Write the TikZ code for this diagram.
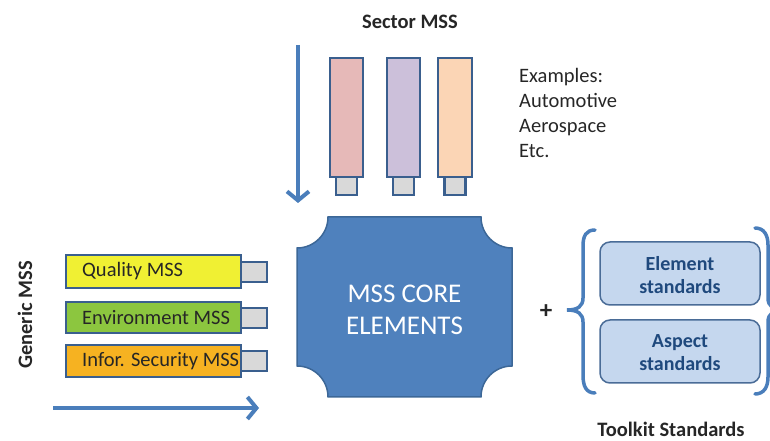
\documentclass[tikz,border=0pt]{standalone}
\usepackage{fontspec}
\setmainfont{Carlito}
\usetikzlibrary{arrows.meta}

\definecolor{edgeblue}{HTML}{3A5F8E}
\definecolor{arrowblue}{HTML}{4A7EBB}
\definecolor{corefill}{HTML}{4F81BD}
\definecolor{coreedge}{HTML}{3C6797}
\definecolor{pinkbar}{HTML}{E6B9B8}
\definecolor{lavbar}{HTML}{CCC0DA}
\definecolor{peachbar}{HTML}{FBD5B5}
\definecolor{tabgray}{HTML}{D9D9D9}
\definecolor{qualfill}{HTML}{F0F033}
\definecolor{envfill}{HTML}{8CC63F}
\definecolor{secfill}{HTML}{F6B221}
\definecolor{stdfill}{HTML}{C5D7EE}
\definecolor{stdedge}{HTML}{4A6C97}
\definecolor{stdtext}{HTML}{1F497D}
\definecolor{labeltext}{HTML}{262626}

\tikzset{
  sectorbar/.style={draw=edgeblue, line width=2.5pt},
  tabbox/.style={draw=edgeblue, line width=2.5pt, fill=tabgray},
  genericbar/.style={draw=edgeblue, line width=2.8pt},
  barlabel/.style={anchor=west, inner sep=0pt, text=labeltext, font=\fontsize{20.5}{24}\selectfont},
  flowarrow/.style={draw=arrowblue, line width=4pt, -{Straight Barb[length=9pt,width=22pt,line width=4pt]}},
  bracket/.style={draw=arrowblue, line width=3.5pt, line cap=round},
  stdbox/.style={draw=stdedge, line width=1.5pt, fill=stdfill, rounded corners=10pt},
  stdlabel/.style={align=center, text=stdtext, font=\bfseries\fontsize{20}{23}\selectfont},
  heading/.style={text=labeltext, font=\bfseries\fontsize{20.5}{24}\selectfont}
}

\begin{document}
\begin{tikzpicture}[x=1pt, y=1pt]
\useasboundingbox (0,0) rectangle (770,441);
\clip (0,0) rectangle (770,441);

% ---- Sector MSS (top) ----
\node[heading] (sector) at (410,419) {Sector MSS};

\coordinate (downstart) at (298,396);
\coordinate (downend) at (298,238);
\draw[flowarrow] (downstart) -- (downend);

\draw[tabbox] (336,246) rectangle (357,264);
\draw[tabbox] (393,246) rectangle (414,264);
\draw[tabbox] (444.5,246) rectangle (465.5,264);
\draw[sectorbar, fill=pinkbar] (330,264) rectangle (363,383);
\draw[sectorbar, fill=lavbar] (387,264) rectangle (420,383);
\draw[sectorbar, fill=peachbar] (438,264) rectangle (472,383);

\node[anchor=west, align=left, inner sep=0pt, text=labeltext,
      font=\fontsize{20.5}{25.3}\selectfont] (examples) at (519,328)
  {Examples:\\Automotive\\Aerospace\\Etc.};

% ---- MSS core elements ----
\fill[corefill, draw=coreedge, line width=1.5pt]
  (328,224) -- (481,224) arc[start angle=180, end angle=270, radius=31pt]
  -- (512,75) arc[start angle=90, end angle=180, radius=31pt]
  -- (328,44) arc[start angle=0, end angle=90, radius=31pt]
  -- (297,193) arc[start angle=270, end angle=360, radius=31pt]
  -- cycle;
\node[align=center, text=white, font=\fontsize{27}{32}\selectfont] (core) at (404.5,131)
  {MSS CORE\\ELEMENTS};

% ---- Generic MSS (left) ----
\node[heading, rotate=90] (generic) at (25,126) {Generic MSS};

\draw[tabbox] (241,159) rectangle (267,179);
\draw[tabbox] (241,113) rectangle (267,133);
\draw[tabbox] (241,70) rectangle (267,90);
\draw[genericbar, fill=qualfill] (66,153) rectangle (241,186);
\draw[genericbar, fill=envfill] (66,108) rectangle (241,139);
\draw[genericbar, fill=secfill] (66,64) rectangle (241,96);
\node[barlabel] (quality) at (82,169.5) {Quality MSS};
\node[barlabel] (environment) at (82,123.5) {Environment MSS};
\node[barlabel] (security) at (82,80) {Infor. Security MSS};

\coordinate (rightstart) at (53,33);
\coordinate (rightend) at (259,33);
\draw[flowarrow] (rightstart) -- (rightend);

% ---- Toolkit standards (right) ----
\node[heading, font=\bfseries\fontsize{25}{28}\selectfont] (plus) at (546,129) {+};

\draw[bracket] (595,211) .. controls (586,211) and (583,205) .. (583,195)
  -- (583,143) .. controls (583,135) and (578,131) .. (567,131)
  .. controls (578,131) and (583,127) .. (583,119)
  -- (583,66) .. controls (583,55) and (586,48) .. (595,48);
\draw[bracket] (755,213) .. controls (764,213) and (768,206) .. (768,196)
  -- (768,143) .. controls (768,135) and (773,131) .. (784,131)
  .. controls (773,131) and (768,127) .. (768,119)
  -- (768,64) .. controls (768,54) and (764,47) .. (755,47);

\draw[stdbox] (600,136) rectangle (760,199);
\draw[stdbox] (600,58) rectangle (760,121);
\node[stdlabel] (element) at (680,166) {Element\\standards};
\node[stdlabel] (aspect) at (680,88) {Aspect\\standards};

\node[heading] (toolkit) at (671,12) {Toolkit Standards};
\end{tikzpicture}
\end{document}
